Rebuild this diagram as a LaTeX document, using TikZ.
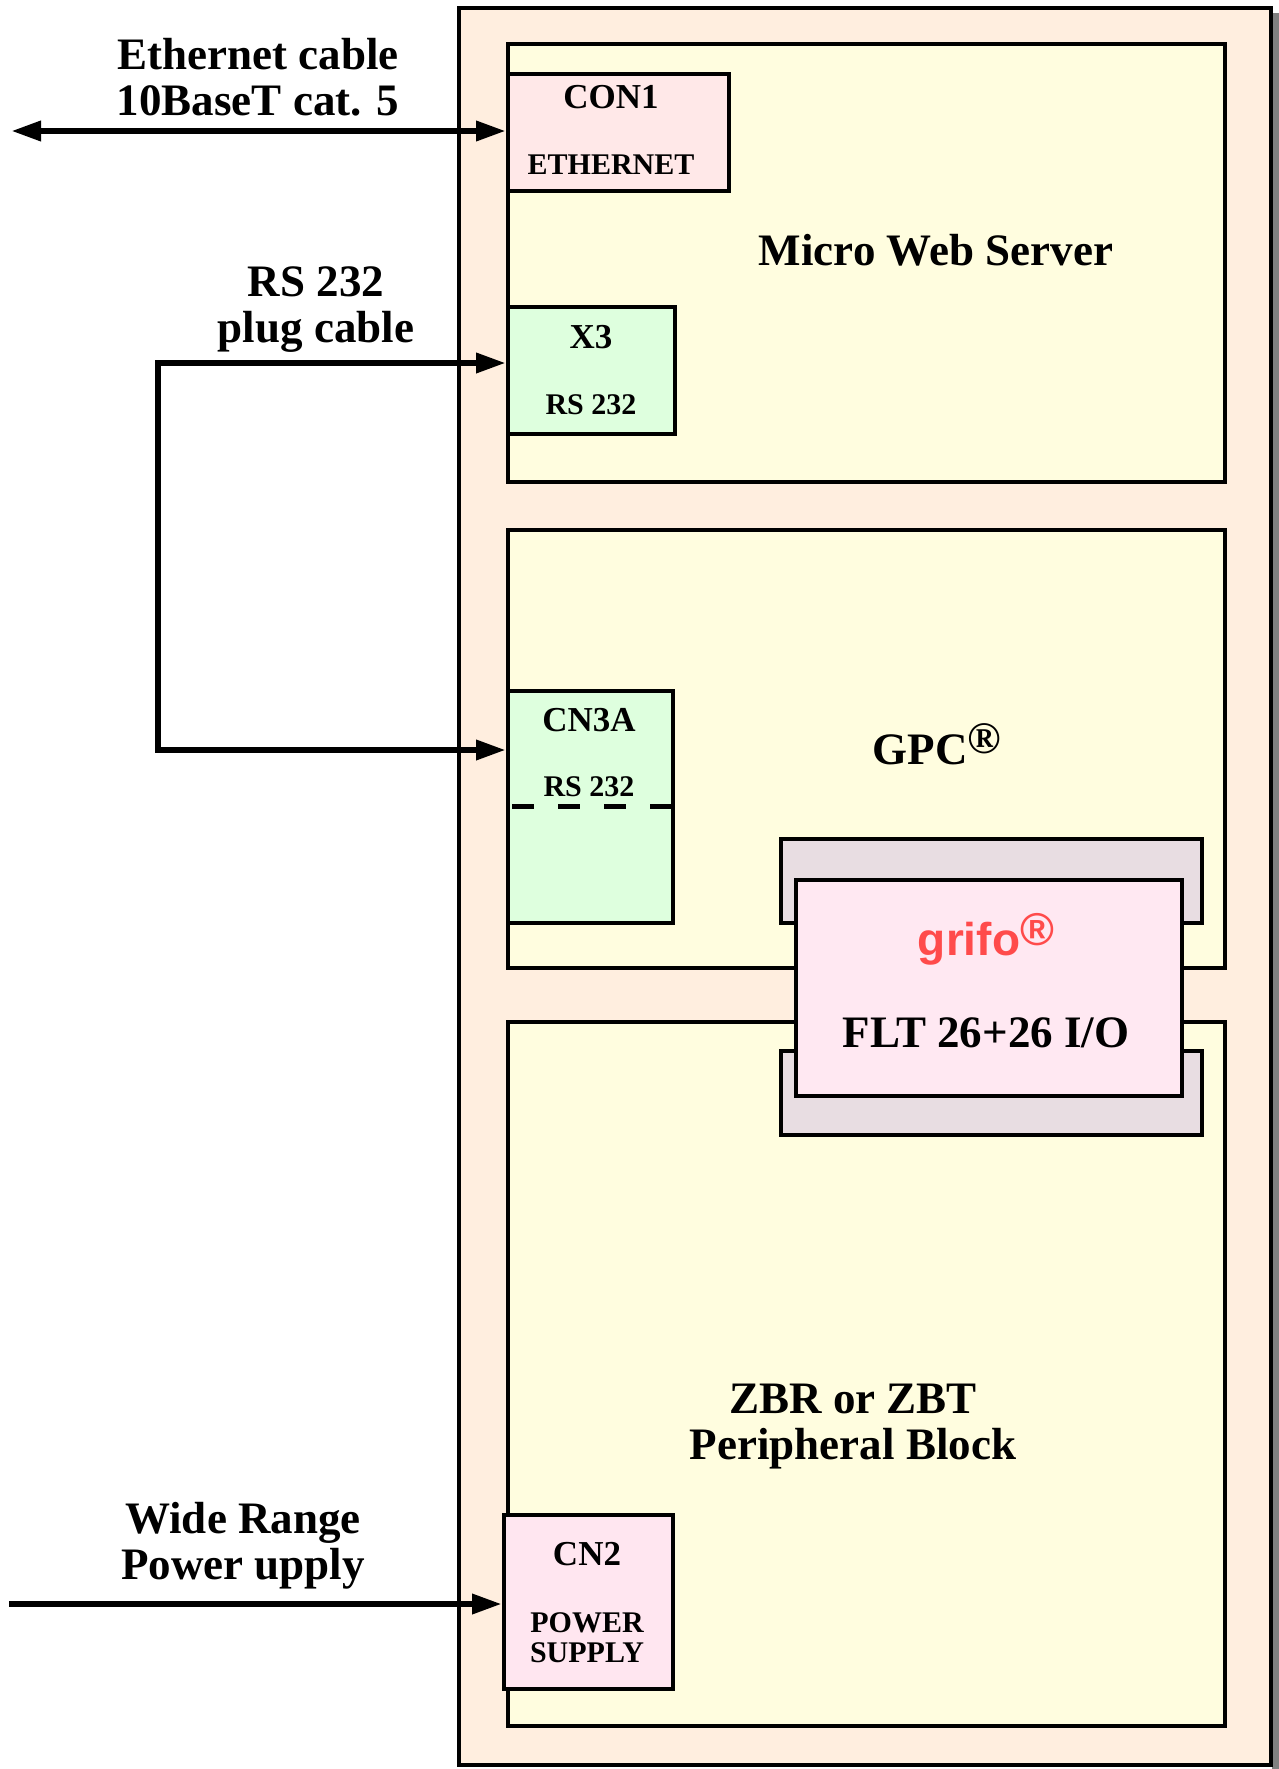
\documentclass[tikz,border=0pt]{standalone}
\usepackage{fontspec}
\setmainfont{Liberation Serif}
\newfontfamily\logofont{Liberation Sans}
\usetikzlibrary{positioning,arrows.meta,calc}
\definecolor{caseclr}{HTML}{FFEEDF}
\definecolor{modclr}{HTML}{FFFDDF}
\definecolor{ethclr}{HTML}{FFE8E8}
\definecolor{serclr}{HTML}{DEFFDE}
\definecolor{pwrclr}{HTML}{FFE6F0}
\definecolor{tabclr}{HTML}{E8DDE2}
\definecolor{fltclr}{HTML}{FFE8F2}
\definecolor{logoclr}{HTML}{FF4B4B}
\definecolor{shdclr}{HTML}{808080}
\newcommand{\regmark}[1]{\raisebox{#1}{\textregistered}}
\tikzset{
  casebox/.style ={draw=black, line width=4pt, fill=caseclr, inner sep=0pt},
  modbox/.style  ={draw=black, line width=4pt, fill=modclr, inner sep=0pt},
  connbox/.style ={draw=black, line width=4pt, inner sep=0pt},
  bigtxt/.style  ={font=\bfseries\fontsize{45}{46}\selectfont, align=center, inner sep=0pt, anchor=base},
  contxt/.style  ={font=\bfseries\fontsize{35}{36}\selectfont, inner sep=0pt, anchor=base},
  subtxt/.style  ={font=\bfseries\fontsize{30}{30}\selectfont, inner sep=0pt, anchor=base},
  cable/.style   ={line width=6.5pt, line join=miter, -{Triangle[length=30pt,width=19pt]}},
}
\begin{document}
\begin{tikzpicture}[x=1pt, y=-1pt]
  \useasboundingbox (0,0) rectangle (1279,1769);
  % case with shadow
  \fill[shdclr] (1272,13) rectangle (1279,1769);
  \node[casebox, minimum width=812pt, minimum height=1757pt] (case) at (865,886.5) {};
  % modules
  \node[modbox, minimum width=717pt, minimum height=438pt] (mws) at (866.5,263) {};
  \node[modbox, minimum width=717pt, minimum height=438pt] (gpc) at (866.5,749) {};
  \node[modbox, minimum width=717pt, minimum height=704pt] (zbr) at (866.5,1374) {};
  \node[bigtxt] (mwst) at (936,265) {Micro Web Server};
  \node[bigtxt] (gpct) at (937,764) {GPC\regmark{11pt}};
  \node[bigtxt] (zbrt) at (853,1459) {ZBR or ZBT\\Peripheral Block};
  % connectors
  \node[connbox, fill=ethclr, minimum width=221pt, minimum height=117pt] (con1) at (618.5,132.5) {};
  \node[contxt] (con1a) at (611,108) {CON1};
  \node[subtxt] (con1b) at (611,174) {ETHERNET};
  \node[connbox, fill=serclr, minimum width=167pt, minimum height=127pt] (x3) at (591.5,370.5) {};
  \node[contxt] (x3a) at (591,348) {X3};
  \node[subtxt] (x3b) at (591,414) {RS 232};
  \node[connbox, fill=serclr, minimum width=165pt, minimum height=232pt] (cn3a) at (590.5,807) {};
  \node[contxt] (cn3aa) at (589,731) {CN3A};
  \node[subtxt] (cn3ab) at (589,796) {RS 232};
  \coordinate (cut) at (512,806);
  \draw[line width=5pt, dash pattern=on 22pt off 24pt] (cut) -- (cut -| cn3a.east);
  \node[connbox, fill=pwrclr, minimum width=169pt, minimum height=174pt] (cn2) at (588.5,1602) {};
  \node[contxt] (cn2a) at (587,1565) {CN2};
  \node[subtxt, align=center] (cn2b) at (587,1662) {POWER\\SUPPLY};
  % FLT terminal board
  \node[connbox, fill=tabclr, minimum width=421pt, minimum height=84pt] (tabt) at (991.5,881) {};
  \node[connbox, fill=tabclr, minimum width=421pt, minimum height=84pt] (tabb) at (991.5,1093) {};
  \node[connbox, fill=fltclr, minimum width=386pt, minimum height=216pt] (flt) at (989,988) {};
  \node[font=\logofont\bfseries\fontsize{46}{46}\selectfont, text=logoclr, inner sep=0pt, anchor=base] (logo) at (986,955) {grifo\regmark{10pt}};
  \node[bigtxt] (fltt) at (986,1047) {FLT 26+26 I/O};
  % cables
  \coordinate (ethend) at (11,131);
  \coordinate (rstop) at (158,363);
  \coordinate (rsbot) at (158,750);
  \coordinate (pwrend) at (9,1604);
  \draw[cable, {Triangle[length=30pt,width=19pt]}-{Triangle[length=30pt,width=19pt]}] (ethend) -- (ethend -| con1.west);
  \draw[cable, {Triangle[length=30pt,width=19pt]}-{Triangle[length=30pt,width=19pt]}] (rstop -| x3.west) -- (rstop) -- (rsbot) -- (rsbot -| cn3a.west);
  \draw[cable] (pwrend) -- (pwrend -| cn2.west);
  \node[bigtxt] (ethlbl) at (258,115) {Ethernet cable\\10BaseT cat. 5};
  \node[bigtxt] (rslbl) at (316,342) {RS 232\\plug cable};
  \node[bigtxt] (pwrlbl) at (243,1579) {Wide Range\\Power upply};
\end{tikzpicture}
\end{document}
